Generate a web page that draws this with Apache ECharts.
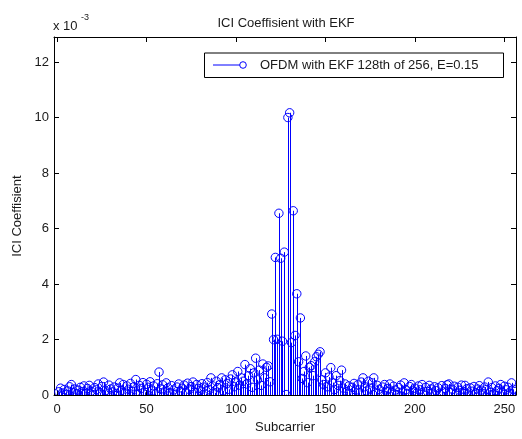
<!DOCTYPE html>
<html>
<head>
<meta charset="utf-8">
<script src="https://cdn.jsdelivr.net/npm/echarts@6/dist/echarts.min.js"></script>
<style>
  html, body { margin: 0; padding: 0; background: #fff; }
  #chart { width: 522px; height: 439px; }
</style>
</head>
<body>
<div id="chart"></div>
<script>
// ICI coefficient of the 128th subcarrier (of 256) with EKF, in units of 1e-3
const subcarriers = Array.from({ length: 256 }, (_, i) => i + 1);
const iciCoeff = [
  0.12, 0.25, 0.08, 0.20, 0.03, 0.15, 0.30, 0.38, 0.10, 0.22,
  0.05, 0.18, 0.28, 0.12, 0.33, 0.07, 0.24, 0.35, 0.14, 0.02,
  0.27, 0.19, 0.40, 0.09, 0.31, 0.47, 0.16, 0.04, 0.36, 0.22,
  0.11, 0.29, 0.06, 0.25, 0.44, 0.17, 0.38, 0.08, 0.33, 0.21,
  0.42, 0.13, 0.30, 0.56, 0.02, 0.35, 0.24, 0.45, 0.10, 0.39,
  0.28, 0.48, 0.15, 0.33, 0.05, 0.41, 0.83, 0.22, 0.37, 0.12,
  0.44, 0.26, 0.09, 0.34, 0.18, 0.03, 0.29, 0.40, 0.14, 0.25,
  0.36, 0.07, 0.43, 0.20, 0.31, 0.47, 0.11, 0.38, 0.24, 0.16,
  0.41, 0.29, 0.04, 0.45, 0.19, 0.62, 0.33, 0.08, 0.50, 0.27,
  0.38, 0.62, 0.15, 0.55, 0.42, 0.21, 0.58, 0.73, 0.30, 0.47,
  0.85, 0.36, 0.62, 0.50, 1.10, 0.40, 0.70, 0.95, 0.28, 0.80,
  1.33, 0.55, 0.90, 0.35, 1.12, 0.62, 1.00, 1.05, 0.48, 2.92,
  2.00, 4.96, 2.01, 6.55, 4.93, 1.94, 5.15, 0.02, 10.00, 10.17,
  1.89, 6.64, 2.15, 3.65, 1.20, 2.78, 0.60, 0.85, 1.41, 0.45,
  1.00, 1.06, 0.70, 1.20, 1.38, 1.47, 1.56, 0.55, 0.38, 0.80,
  0.30, 0.65, 0.99, 0.45, 0.20, 0.70, 0.35, 0.52, 0.90, 0.25,
  0.40, 0.12, 0.33, 0.05, 0.28, 0.42, 0.18, 0.37, 0.08, 0.47,
  0.62, 0.30, 0.15, 0.50, 0.25, 0.44, 0.62, 0.10, 0.35, 0.21,
  0.03, 0.29, 0.38, 0.14, 0.24, 0.40, 0.09, 0.32, 0.18, 0.02,
  0.27, 0.36, 0.11, 0.44, 0.20, 0.06, 0.31, 0.38, 0.15, 0.25,
  0.08, 0.33, 0.19, 0.38, 0.04, 0.28, 0.13, 0.35, 0.22, 0.07,
  0.30, 0.16, 0.26, 0.02, 0.34, 0.11, 0.24, 0.37, 0.40, 0.09,
  0.21, 0.32, 0.05, 0.28, 0.17, 0.36, 0.12, 0.35, 0.23, 0.03,
  0.26, 0.14, 0.31, 0.08, 0.22, 0.34, 0.18, 0.06, 0.29, 0.20,
  0.47, 0.10, 0.27, 0.04, 0.33, 0.16, 0.24, 0.38, 0.09, 0.32,
  0.19, 0.28, 0.06, 0.44, 0.21, 0.13
];
const xTicks = [0, 50, 100, 150, 200, 250];
const yTicks = [0, 2, 4, 6, 8, 10, 12];
const seriesName = 'OFDM with EKF 128th of 256, E=0.15';

const FONT = 'Liberation Sans, Arial, sans-serif';
const BLUE = '#0000ff';
const INK = '#000000';
const TEXT = '#1a1a1a';

const chart = echarts.init(document.getElementById('chart'), null, { renderer: 'canvas' });

const tickStyle = { inside: true, length: 5, lineStyle: { color: INK, width: 1 } };
const axisLine = { show: true, onZero: false, lineStyle: { color: INK, width: 1 } };
const X_MIN = -1.7, X_MAX = 256.5, Y_MAX = 12.9;

chart.setOption({
  animation: false,
  backgroundColor: '#fff',
  grid: { left: 54, right: 6, top: 37, bottom: 38 },
  xAxis: [
    {
      type: 'value', min: X_MIN, max: X_MAX,
      name: 'Subcarrier', nameLocation: 'middle', nameGap: 21,
      nameTextStyle: { fontFamily: FONT, fontSize: 13, color: TEXT },
      axisLine,
      axisTick: Object.assign({ customValues: xTicks }, tickStyle),
      axisLabel: { customValues: xTicks, margin: 8, fontFamily: FONT, fontSize: 13, color: TEXT },
      splitLine: { show: false }
    },
    {
      type: 'value', position: 'top', min: X_MIN, max: X_MAX,
      axisLine,
      axisTick: Object.assign({ customValues: xTicks }, tickStyle),
      axisLabel: { show: false },
      splitLine: { show: false }
    }
  ],
  yAxis: [
    {
      type: 'value', min: 0, max: Y_MAX,
      name: 'ICI Coeffisient', nameLocation: 'middle', nameGap: 30,
      nameTextStyle: { fontFamily: FONT, fontSize: 13, color: TEXT },
      axisLine,
      axisTick: Object.assign({ customValues: yTicks }, tickStyle),
      axisLabel: { customValues: yTicks, margin: 5, fontFamily: FONT, fontSize: 13, color: TEXT },
      splitLine: { show: false }
    },
    {
      type: 'value', position: 'right', min: 0, max: Y_MAX,
      axisLine,
      axisTick: Object.assign({ customValues: yTicks }, tickStyle),
      axisLabel: { show: false },
      splitLine: { show: false }
    }
  ],
  series: [
    {
      name: seriesName,
      type: 'custom',
      xAxisIndex: 0, yAxisIndex: 0,
      data: subcarriers.map((s, i) => [s, iciCoeff[i]]),
      clip: true,
      renderItem: function (params, api) {
        const top = api.coord([api.value(0), api.value(1)]);
        const base = api.coord([api.value(0), 0]);
        const sx = Math.round(top[0]) + 0.5;
        return {
          type: 'group',
          children: [
            {
              type: 'line',
              shape: { x1: sx, y1: base[1], x2: sx, y2: top[1] },
              style: { stroke: BLUE, lineWidth: 1 }
            },
            {
              type: 'circle',
              shape: { cx: top[0], cy: top[1], r: 4.2 },
              style: { fill: 'none', stroke: BLUE, lineWidth: 1 }
            }
          ]
        };
      }
    }
  ],
  graphic: [
    {
      type: 'text', x: 286, y: 23,
      style: { text: 'ICI Coeffisient with EKF', font: '13px ' + FONT, fill: TEXT, align: 'center', verticalAlign: 'middle' }
    },
    {
      type: 'text', x: 53, y: 26,
      style: { text: 'x 10', font: '13px ' + FONT, fill: TEXT, verticalAlign: 'middle' }
    },
    {
      type: 'text', x: 81, y: 18,
      style: { text: '-3', font: '9px ' + FONT, fill: TEXT, verticalAlign: 'middle' }
    },
    {
      type: 'group', x: 204, y: 52.5,
      children: [
        {
          type: 'rect', shape: { x: 0.5, y: 0.5, width: 299, height: 24.5 },
          style: { fill: '#fff', stroke: INK, lineWidth: 1 }
        },
        {
          type: 'line', shape: { x1: 9, y1: 12.5, x2: 39, y2: 12.5 },
          style: { stroke: BLUE, lineWidth: 1 }
        },
        {
          type: 'circle', shape: { cx: 39, cy: 12.5, r: 3.3 },
          style: { fill: '#fff', stroke: BLUE, lineWidth: 1 }
        },
        {
          type: 'text', x: 56, y: 13,
          style: { text: seriesName, font: '13px ' + FONT, fill: TEXT, verticalAlign: 'middle' }
        }
      ]
    }
  ]
});
</script>
</body>
</html>
